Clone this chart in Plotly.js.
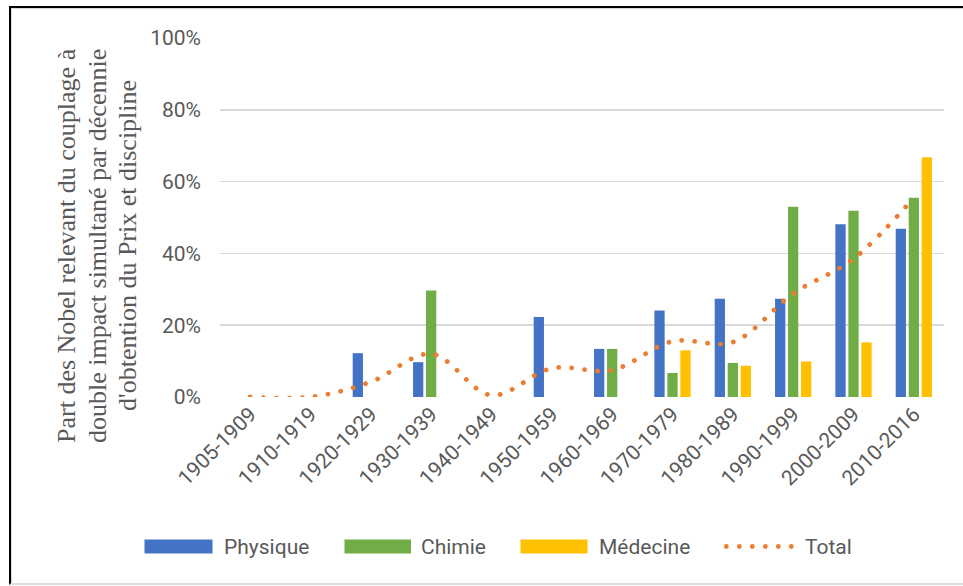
<!DOCTYPE html>
<html>
<head>
<meta charset="utf-8">
<script src="https://cdn.plot.ly/plotly-3.0.1.min.js"></script>
<style>
  html, body { margin: 0; padding: 0; background: #fff; }
  #wrap { position: relative; width: 963px; height: 586px; overflow: hidden; }
  #chart { position: absolute; left: 0; top: 0; width: 963px; height: 586px; }
  #frame { position: absolute; left: 9px; top: 6px; right: -5px; bottom: 1px;
           border-left: 2.5px solid #000; border-top: 2.5px solid #000;
           border-bottom: 2px solid #dcdcdc; box-shadow: inset 1px 1px 0 #d6d6d6;
           pointer-events: none; }
  .scatterlayer .js-line, .shapelayer path { stroke-linecap: round; }
</style>
</head>
<body>
<div id="wrap">
  <div id="chart"></div>
  <div id="frame"></div>
</div>
<script>
// ---- data ----
const decades = ["1905-1909","1910-1919","1920-1929","1930-1939","1940-1949","1950-1959",
                 "1960-1969","1970-1979","1980-1989","1990-1999","2000-2009","2010-2016"];
const physique = [0, 0, 0.122, 0.097, 0, 0.223, 0.134, 0.241, 0.274, 0.274, 0.481, 0.469];
const chimie   = [0, 0, 0, 0.297, 0, 0, 0.134, 0.067, 0.095, 0.530, 0.519, 0.555];
const medecine = [0, 0, 0, 0, 0, 0, 0, 0.130, 0.087, 0.099, 0.152, 0.668];
const total    = [0, 0, 0.042, 0.120, 0.005, 0.080, 0.075, 0.155, 0.153, 0.288, 0.385, 0.555];
const seriesNames = ["Physique", "Chimie", "Médecine", "Total"];
const yTitleLines = ["Part des Nobel relevant du couplage à",
                     "double impact simultané par décennie",
                     "d'obtention du Prix et discipline"];
const colors = ["#4472C4", "#70AD47", "#FFC000", "#ED7D31"];

const gray = "#595959";
const tickFont = {family: "Roboto, 'Open Sans', sans-serif", size: 21, color: gray};
const titleFont = {family: "'Liberation Serif', 'Times New Roman', serif", size: 26, color: gray};

const traces = [
  {type: "bar", name: seriesNames[0], x: decades, y: physique, marker: {color: colors[0]}, showlegend: false},
  {type: "bar", name: seriesNames[1], x: decades, y: chimie,   marker: {color: colors[1]}, showlegend: false},
  {type: "bar", name: seriesNames[2], x: decades, y: medecine, marker: {color: colors[2]}, showlegend: false},
  {type: "scatter", mode: "lines", name: seriesNames[3], x: decades, y: total,
   line: {color: colors[3], width: 4.8, shape: "spline", smoothing: 1, dash: "0.01px,13px"},
   showlegend: false}
];

// pixel -> paper helpers for layout decorations
const L = {l: 220, t: 38, w: 724, h: 359};
function px(xp) { return (xp - L.l) / L.w; }
function py(yp) { return (L.t + L.h - yp) / L.h; }

// custom legend (wide Excel-style swatches)
const legY = 546.5;
const swatches = [[144.5, 212.5], [344.5, 411], [520.5, 587.5]];
const textX = [221.5, 419, 597, 803];
const shapes = [];
swatches.forEach((s, i) => {
  shapes.push({type: "rect", xref: "paper", yref: "paper",
    x0: px(s[0]), x1: px(s[1]), y0: py(legY - 7), y1: py(legY + 7),
    fillcolor: colors[i], line: {width: 0}});
});
shapes.push({type: "line", xref: "paper", yref: "paper",
  x0: px(726.3), x1: px(791.5), y0: py(legY), y1: py(legY),
  line: {color: colors[3], width: 4.8, dash: "0.01px,13px"}});
const annotations = seriesNames.map((n, i) => ({
  xref: "paper", yref: "paper", x: px(textX[i]), y: py(legY),
  xanchor: "left", yanchor: "middle", showarrow: false, text: n,
  font: tickFont
}));

// y-axis title, three rotated lines (Excel-style)
const titleX = [66, 97, 127];
yTitleLines.forEach((t, i) => {
  annotations.push({xref: "paper", yref: "paper", x: px(titleX[i]), y: py(246),
    xanchor: "center", yanchor: "middle", textangle: -90, showarrow: false,
    text: t, font: titleFont});
});

const layout = {
  width: 963, height: 586,
  margin: {l: 220, r: 19, t: 38, b: 189, pad: 0},
  paper_bgcolor: "#fff", plot_bgcolor: "#fff",
  barmode: "group", bargap: 0.354, bargroupgap: 0.21,
  showlegend: false,
  xaxis: {type: "category", tickangle: -45, tickfont: tickFont, showgrid: false,
          zeroline: false, showline: false, ticks: "", automargin: false},
  yaxis: {range: [0, 1], dtick: 0.2, tickformat: ".0%", tickfont: tickFont,
          showgrid: true, gridcolor: "#d9d9d9", gridwidth: 1.6, zeroline: false,
          showline: false, ticks: "", ticklabelstandoff: 18, automargin: false},
  shapes: shapes,
  annotations: annotations,
  font: {family: "Roboto, sans-serif", color: gray}
};

Plotly.newPlot("chart", traces, layout, {staticPlot: true, displayModeBar: false});
</script>
</body>
</html>
